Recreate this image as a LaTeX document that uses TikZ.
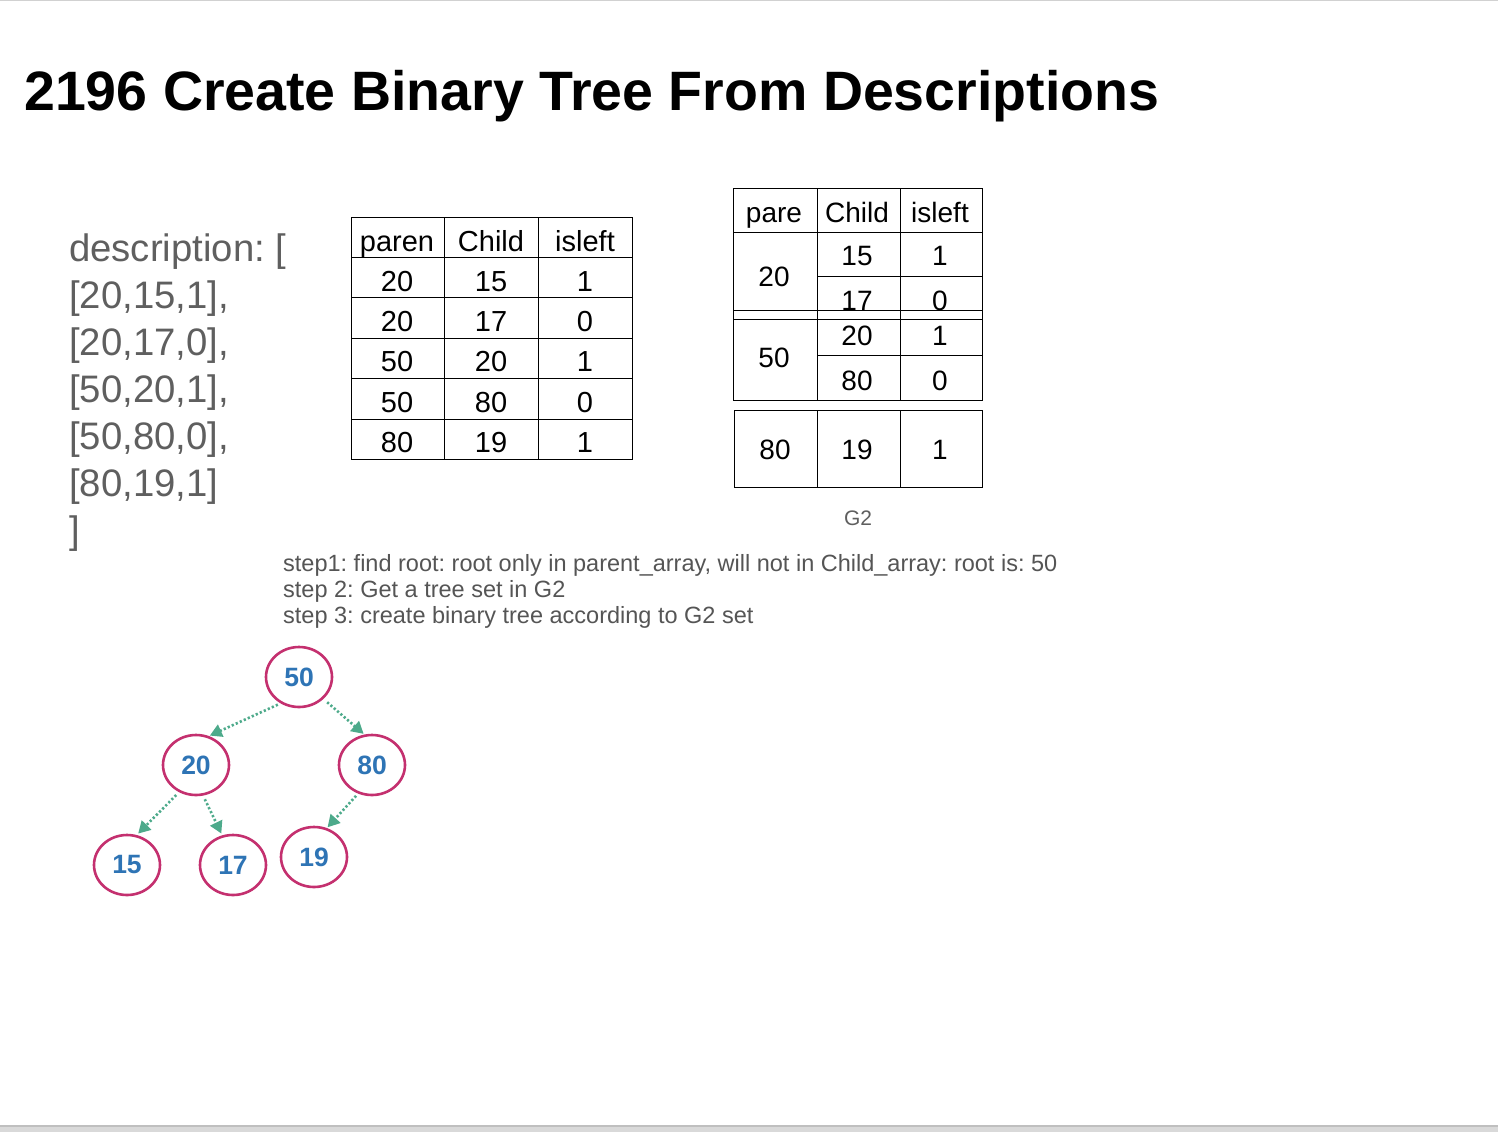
\documentclass[tikz,border=0pt]{standalone}
\usepackage{fontspec}
\setmainfont{Liberation Sans}
\usetikzlibrary{arrows.meta,shapes.geometric}
\frenchspacing
\definecolor{desc}{HTML}{5F5F5F}
\definecolor{stepc}{HTML}{555555}
\definecolor{ring}{HTML}{C4306F}
\definecolor{numc}{HTML}{2E74B5}
\definecolor{arrc}{HTML}{4DAA8B}
\tikzset{
  desctext/.style={anchor=base west, text=desc, font=\fontsize{38.3}{44}\selectfont, inner sep=0pt},
  steptext/.style={anchor=base west, text=stepc, font=\fontsize{23.5}{26}\selectfont, inner sep=0pt},
  tcell/.style={anchor=base, font=\fontsize{29}{34}\selectfont, inner sep=0pt},
  ucell/.style={anchor=base, font=\fontsize{28}{33}\selectfont, inner sep=0pt},
  tline/.style={draw=black, line width=1pt},
  treenode/.style={ellipse, draw=ring, line width=2.6pt, minimum width=66pt, minimum height=60pt, inner sep=0pt, text=numc, font=\fontsize{26.5}{30}\selectfont\bfseries},
  treearrow/.style={draw=arrc, line width=2.6pt, dash pattern=on 2.2pt off 2.2pt, -{Triangle[length=12pt,width=13pt,fill=arrc]}}
}
\begin{document}
\begin{tikzpicture}[x=1pt,y=-1pt]
\useasboundingbox (0,0) rectangle (1498,1132);
\fill[white] (0,0) rectangle (1498,1132);
\fill[black!18] (0,0) rectangle (1498,1.2);
\fill[black!15] (0,1127) rectangle (1498,1132);
\fill[black!25] (0,1125) rectangle (1498,1127);

% title
\node[anchor=base west, inner sep=0pt, font=\fontsize{55.5}{66}\selectfont\bfseries] (title) at (24,110) {2196 Create Binary Tree From Descriptions};

% description
\node[desctext] (d0) at (69,261) {description: [};
\node[desctext] (d1) at (69,308) {[20,15,1],};
\node[desctext] (d2) at (69,355) {[20,17,0],};
\node[desctext] (d3) at (69,402) {[50,20,1],};
\node[desctext] (d4) at (69,449) {[50,80,0],};
\node[desctext] (d5) at (69,496) {[80,19,1]};
\node[desctext] (d6) at (69,543) {]};

% table 1
\draw[tline] (351,217) rectangle (632,459);
\foreach \xx in {444,538} \draw[tline] (\xx,217) -- (\xx,459);
\foreach \yy in {257,297,338,378,419} \draw[tline] (351,\yy) -- (632,\yy);
\node[tcell] (h1) at (397,251) {paren};
\node[tcell] (h2) at (491,251) {Child};
\node[tcell] (h3) at (585,251) {isleft};
\foreach \r/\a/\b/\c [count=\i] in {0/20/15/1,1/20/17/0,2/50/20/1,3/50/80/0,4/80/19/1} {
  \node[tcell] (ta\i) at (397,{291+40.4*\r}) {\a};
  \node[tcell] (tb\i) at (491,{291+40.4*\r}) {\b};
  \node[tcell] (tc\i) at (585,{291+40.4*\r}) {\c};
}

% table 2
\node[ucell] (g1) at (774,222) {pare};
\node[ucell] (g2) at (857,222) {Child};
\node[ucell] (g3) at (940,222) {isleft};
\node[ucell] (ga) at (774,286) {20};
\node[ucell] (gb) at (857,265) {15};
\node[ucell] (gc) at (940,265) {1};
\node[ucell] (gd) at (857,310) {17};
\node[ucell] (ge) at (940,310) {0};
\fill[white] (734,310.5) rectangle (982,319);
\draw[tline] (733,188) rectangle (982,319);
\draw[tline] (733,232) -- (982,232);
\draw[tline] (817,188) -- (817,319);
\draw[tline] (900,188) -- (900,319);
\draw[tline] (817,276) -- (982,276);
\draw[tline] (733,310) -- (982,310);
\draw[tline] (733,319) rectangle (982,400);
\draw[tline] (817,319) -- (817,400);
\draw[tline] (900,319) -- (900,400);
\draw[tline] (817,355) -- (982,355);
\node[ucell] (gf) at (774,367) {50};
\node[ucell] (gg) at (857,345) {20};
\node[ucell] (gh) at (940,345) {1};
\node[ucell] (gi) at (857,390) {80};
\node[ucell] (gj) at (940,390) {0};
\draw[tline] (734,410) rectangle (982,487);
\draw[tline] (817,410) -- (817,487);
\draw[tline] (900,410) -- (900,487);
\node[ucell] (gk) at (775,459) {80};
\node[ucell] (gl) at (857,459) {19};
\node[ucell] (gm) at (940,459) {1};
\node[anchor=base, inner sep=0pt, text=desc, font=\fontsize{21}{25}\selectfont] (g2lbl) at (858,525) {G2};

% steps
\node[steptext] (s1) at (283,571) {step1: find root: root only in parent\_array, will not in Child\_array: root is: 50};
\node[steptext] (s2) at (283,597) {step 2: Get a tree set in G2};
\node[steptext] (s3) at (283,623) {step 3: create binary tree according to G2 set};

% tree
\node[treenode] (n50) at (299,677) {50};
\node[treenode] (n20) at (196,765) {20};
\node[treenode] (n80) at (372,765) {80};
\node[treenode] (n15) at (127,865) {15};
\node[treenode] (n17) at (233,865) {17};
\node[treenode] (n19) at (314,857) {19};
\draw[treearrow, shorten <=3pt, shorten >=1pt] (n50.235) -- (n20.66);
\draw[treearrow, shorten <=5pt, shorten >=1pt] (n50.318) -- (n80.104);
\draw[treearrow, shorten <=4pt, shorten >=2pt] (n20.238) -- (n15.72);
\draw[treearrow, shorten <=4pt, shorten >=2pt] (n20.283) -- (n17.110);
\draw[treearrow, shorten <=3pt, shorten >=1pt] (n80.244) -- (n19.66);
\end{tikzpicture}
\end{document}
